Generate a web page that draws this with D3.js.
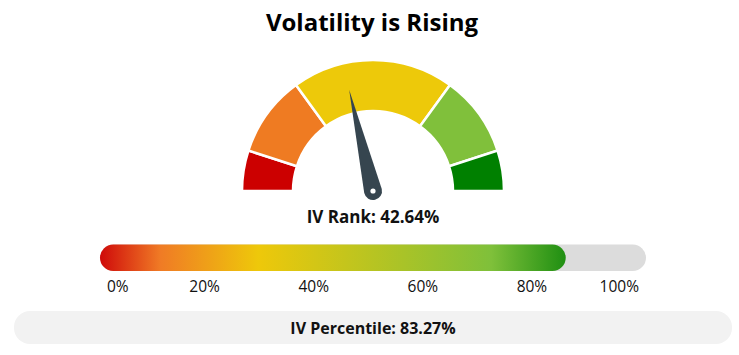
<!DOCTYPE html>
<html><head><meta charset="utf-8">
<script src="https://cdn.jsdelivr.net/npm/d3@7"></script>
<style>body{margin:0;background:#fff}svg{display:block}</style>
</head><body>
<svg id="c" width="739" height="355"></svg>
<script>
const title = "Volatility is Rising";
const ivRank = 42.64;
const ivPercentile = 83.27;
const zoneStops = [0, 10, 30, 70, 90, 100];
const zoneColors = ["#cc0000", "#ef7b22", "#edc90a", "#80c03b", "#008000"];
const tickValues = [0, 20, 40, 60, 80, 100];
const tickLabels = ["0%", "20%", "40%", "60%", "80%", "100%"];
const gradOffsets = [0, 13, 34, 84, 100];
const gradColors = ["#cf0a0a", "#f07b25", "#eec80a", "#7fc03a", "#1f8f12"];

const svg = d3.select("#c");
const FONT = "'Open Sans', 'Noto Sans', sans-serif";

svg.append("text").attr("x", 372).attr("y", 31).attr("text-anchor", "middle")
  .attr("font-family", FONT).attr("font-weight", 700).attr("font-size", 24)
  .attr("fill", "#000").text(title);

// Gauge
const cx = 373, cy = 191, rO = 131, rI = 80;
const ang = d3.scaleLinear().domain([0, 100]).range([-Math.PI / 2, Math.PI / 2]);
const arc = d3.arc().innerRadius(rI).outerRadius(rO);
const g = svg.append("g").attr("transform", `translate(${cx},${cy})`);
g.selectAll("path.zone").data(zoneColors).join("path").attr("class", "zone")
  .attr("d", (c, i) => arc({startAngle: ang(zoneStops[i]), endAngle: ang(zoneStops[i + 1])}))
  .attr("fill", c => c).attr("stroke", "#fff").attr("stroke-width", 2.5);

// Needle
const a = ang(ivRank);
const L = 104, w = 9;
const tip = [L * Math.sin(a), -L * Math.cos(a)];
const px = Math.cos(a), py = Math.sin(a);
const needle = `M${tip[0]},${tip[1]} L${w * px},${w * py} A${w},${w} 0 0 1 ${-w * px},${-w * py} Z`;
g.append("path").attr("d", needle).attr("fill", "#36454f");
g.append("circle").attr("r", 2.6).attr("fill", "#fff");

svg.append("text").attr("x", 373).attr("y", 223).attr("text-anchor", "middle")
  .attr("font-family", FONT).attr("font-weight", 700).attr("font-size", 17)
  .attr("fill", "#111").text(`IV Rank: ${ivRank.toFixed(2)}%`);

// Percentile bar
const bx0 = 100, bx1 = 646, by = 244.5, bh = 26.5, br = bh / 2;
const x = d3.scaleLinear().domain([0, 100]).range([bx0 - 4.5, bx1 - 5]);
const defs = svg.append("defs");
const fillEnd = x(ivPercentile) + 16;
const lg = defs.append("linearGradient").attr("id", "pg")
  .attr("gradientUnits", "userSpaceOnUse").attr("x1", bx0).attr("x2", fillEnd).attr("y1", 0).attr("y2", 0);
lg.selectAll("stop").data(gradColors).join("stop")
  .attr("offset", (c, i) => gradOffsets[i] + "%").attr("stop-color", c => c);
svg.append("rect").attr("x", bx0).attr("y", by).attr("width", bx1 - bx0).attr("height", bh)
  .attr("rx", br).attr("fill", "#dcdcdc");
svg.append("rect").attr("x", bx0).attr("y", by).attr("width", fillEnd - bx0).attr("height", bh)
  .attr("rx", br).attr("fill", "url(#pg)");

svg.selectAll("text.tick").data(tickValues).join("text").attr("class", "tick")
  .attr("x", (v, i) => i === 0 ? bx0 + 7 : i === tickValues.length - 1 ? bx1 - 7 : x(v))
  .attr("text-anchor", (v, i) => i === 0 ? "start" : i === tickValues.length - 1 ? "end" : "middle")
  .attr("y", 292).attr("font-family", FONT).attr("font-size", 15.5).attr("fill", "#111")
  .text((v, i) => tickLabels[i]);

// Percentile box
svg.append("rect").attr("x", 14).attr("y", 311).attr("width", 718).attr("height", 33)
  .attr("rx", 16).attr("fill", "#f2f2f2");
svg.append("text").attr("x", 373).attr("y", 334).attr("text-anchor", "middle")
  .attr("font-family", FONT).attr("font-weight", 700).attr("font-size", 16)
  .attr("fill", "#111").text(`IV Percentile: ${ivPercentile.toFixed(2)}%`);
</script>
</body></html>
